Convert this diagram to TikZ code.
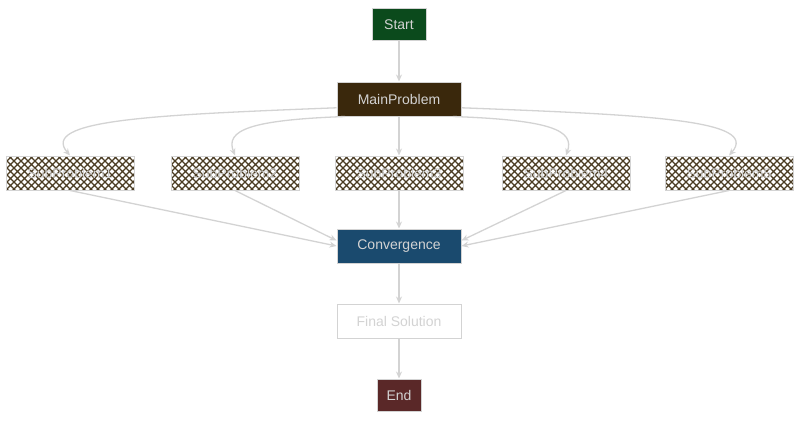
\documentclass[tikz,border=0pt]{standalone}
\usepackage{fontspec}
\setmainfont{Liberation Sans}
\usetikzlibrary{patterns,arrows.meta}
\definecolor{eg}{HTML}{D3D3D3}
\pgfdeclarepatternformonly{bighatch}{\pgfqpoint{-1pt}{-1pt}}{\pgfqpoint{8pt}{8pt}}{\pgfqpoint{7pt}{7pt}}{%
 \pgfsetlinewidth{1.3pt}
 \pgfpathmoveto{\pgfqpoint{0pt}{0pt}}\pgfpathlineto{\pgfqpoint{7.1pt}{7.1pt}}
 \pgfpathmoveto{\pgfqpoint{0pt}{7pt}}\pgfpathlineto{\pgfqpoint{7.1pt}{-0.1pt}}
 \pgfusepath{stroke}}
\begin{document}
\begin{tikzpicture}[x=1pt,y=-1pt,
 box/.style={draw=eg,line width=1pt,minimum height=34pt,inner sep=0pt,font=\fontsize{14}{16}\selectfont},
 sub/.style={box,minimum width=128pt,pattern=bighatch,pattern color={rgb,255:red,75;green,60;blue,35},text=eg},
 ed/.style={draw=eg,line width=1.3pt,-{Stealth[length=7pt,width=6pt]}}]
\useasboundingbox (0,0) rectangle (799,420);
\node[box,fill={rgb,255:red,11;green,74;blue,28},text=eg,minimum width=54pt,minimum height=32pt] (start) at (399,25) {Start};
\node[box,fill={rgb,255:red,58;green,40;blue,12},text=eg,minimum width=124pt] (main) at (399,99) {MainProblem};
\node[sub] (s1) at (70,173) {SubProblem1};
\node[sub] (s2) at (235,173) {SubProblem2};
\node[sub] (s3) at (399,173) {SubProblem3};
\node[sub] (s4) at (566,173) {SubProblem4};
\node[sub] (s5) at (729,173) {SubProblem5};
\node[box,fill={rgb,255:red,26;green,74;blue,110},text=eg,minimum width=124pt] (conv) at (399,246) {Convergence};
\node[box,fill=white,text=eg,minimum width=124pt] (fin) at (399,321) {Final Solution};
\node[box,fill={rgb,255:red,90;green,40;blue,40},text=eg,minimum width=44pt,minimum height=32pt] (end) at (399,395) {End};
\draw[ed] (start) -- (main);
\draw[ed] (main.188) .. controls (150,115) and (40,120) .. (s1.north);
\draw[ed] (main.198) .. controls (250,120) and (225,130) .. (s2.north);
\draw[ed] (main) -- (s3);
\draw[ed] (main.342) .. controls (550,120) and (575,130) .. (s4.north);
\draw[ed] (main.352) .. controls (650,115) and (760,120) .. (s5.north);
\draw[ed] (s1.south) -- (conv.west);
\draw[ed] (s2.south) -- (conv.175);
\draw[ed] (s3) -- (conv);
\draw[ed] (s4.south) -- (conv.5);
\draw[ed] (s5.south) -- (conv.east);
\draw[ed] (conv) -- (fin);
\draw[ed] (fin) -- (end);
\end{tikzpicture}
\end{document}
